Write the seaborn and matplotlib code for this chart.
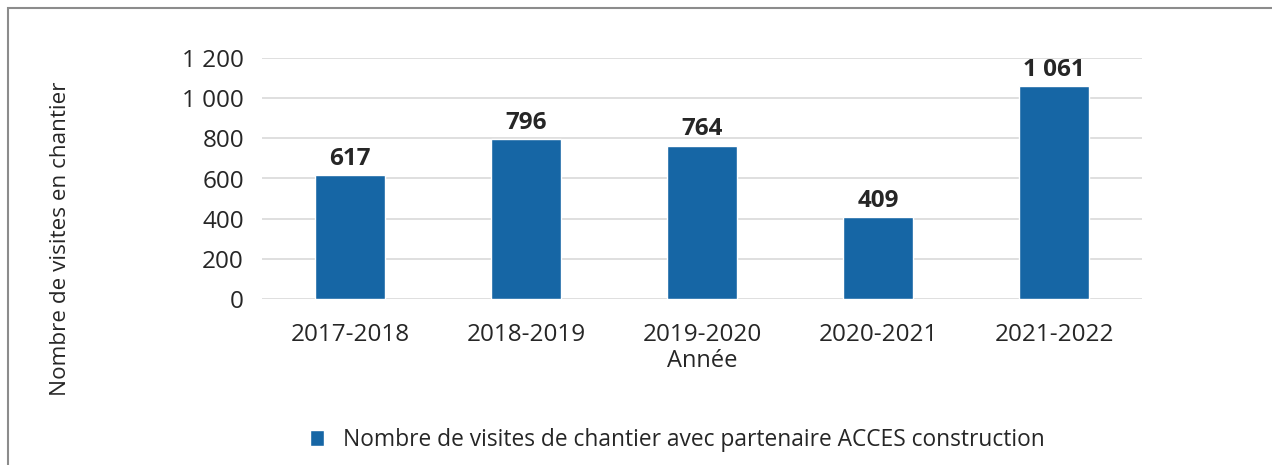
import pandas as pd
import matplotlib.pyplot as plt
import seaborn as sns
from matplotlib.patches import Rectangle

annees = ['2017-2018', '2018-2019', '2019-2020', '2020-2021', '2021-2022']
visites = [617, 796, 764, 409, 1061]
serie = 'Nombre de visites de chantier avec partenaire ACCES construction'

df = pd.DataFrame({'Année': annees, 'Visites': visites, 'Série': serie})

sns.set_theme(style="white")
plt.rcParams['font.family'] = ['Open Sans', 'DejaVu Sans']

bleu = '#1666a5'
texte = '#262626'

def espace(v):
    return f'{int(v):,}'.replace(',', ' ')

fig = plt.figure(figsize=(12.72, 4.65), dpi=100)
ax = fig.add_axes([262 / 1272, 1 - 299 / 465, 880 / 1272, 241 / 465])

sns.barplot(data=df, x='Année', y='Visites', hue='Série', palette=[bleu],
            width=0.4, saturation=1, ax=ax, legend=True)

ax.set_ylim(0, 1200)
ax.set_yticks(range(0, 1201, 200))
ax.set_yticklabels([espace(v) for v in range(0, 1201, 200)])
ax.yaxis.grid(True, color='#d9d9d9', linewidth=1.2)
ax.set_axisbelow(True)
for s in ax.spines.values():
    s.set_visible(False)
ax.tick_params(axis='both', length=0, labelsize=17.5, colors=texte)
ax.tick_params(axis='y', pad=13)
ax.tick_params(axis='x', pad=17)

for c in ax.containers:
    ax.bar_label(c, labels=[espace(v) for v in c.datavalues], padding=3,
                 fontsize=17.5, fontweight='bold', color=texte)

ax.set_xlabel('Année', fontsize=17, color=texte, labelpad=2)
ax.set_ylabel('')
fig.text(61 / 1272, 1 - 239 / 465, 'Nombre de visites en chantier', rotation=90,
         ha='center', va='center', fontsize=16.2, color=texte)

ax.legend(loc='center', bbox_to_anchor=(677 / 1272, 1 - 440 / 465),
          bbox_transform=fig.transFigure, frameon=False, fontsize=16.4,
          handlelength=0.65, handleheight=0.65, handletextpad=0.8,
          labelcolor=texte)

fig.patches.append(Rectangle((8 / 1272, -0.1), 1.2, 1 - 8 / 465 + 0.1,
                             transform=fig.transFigure, fill=False,
                             edgecolor='#8c8c8c', linewidth=1.5))

fig.savefig('out.png', dpi=100)
